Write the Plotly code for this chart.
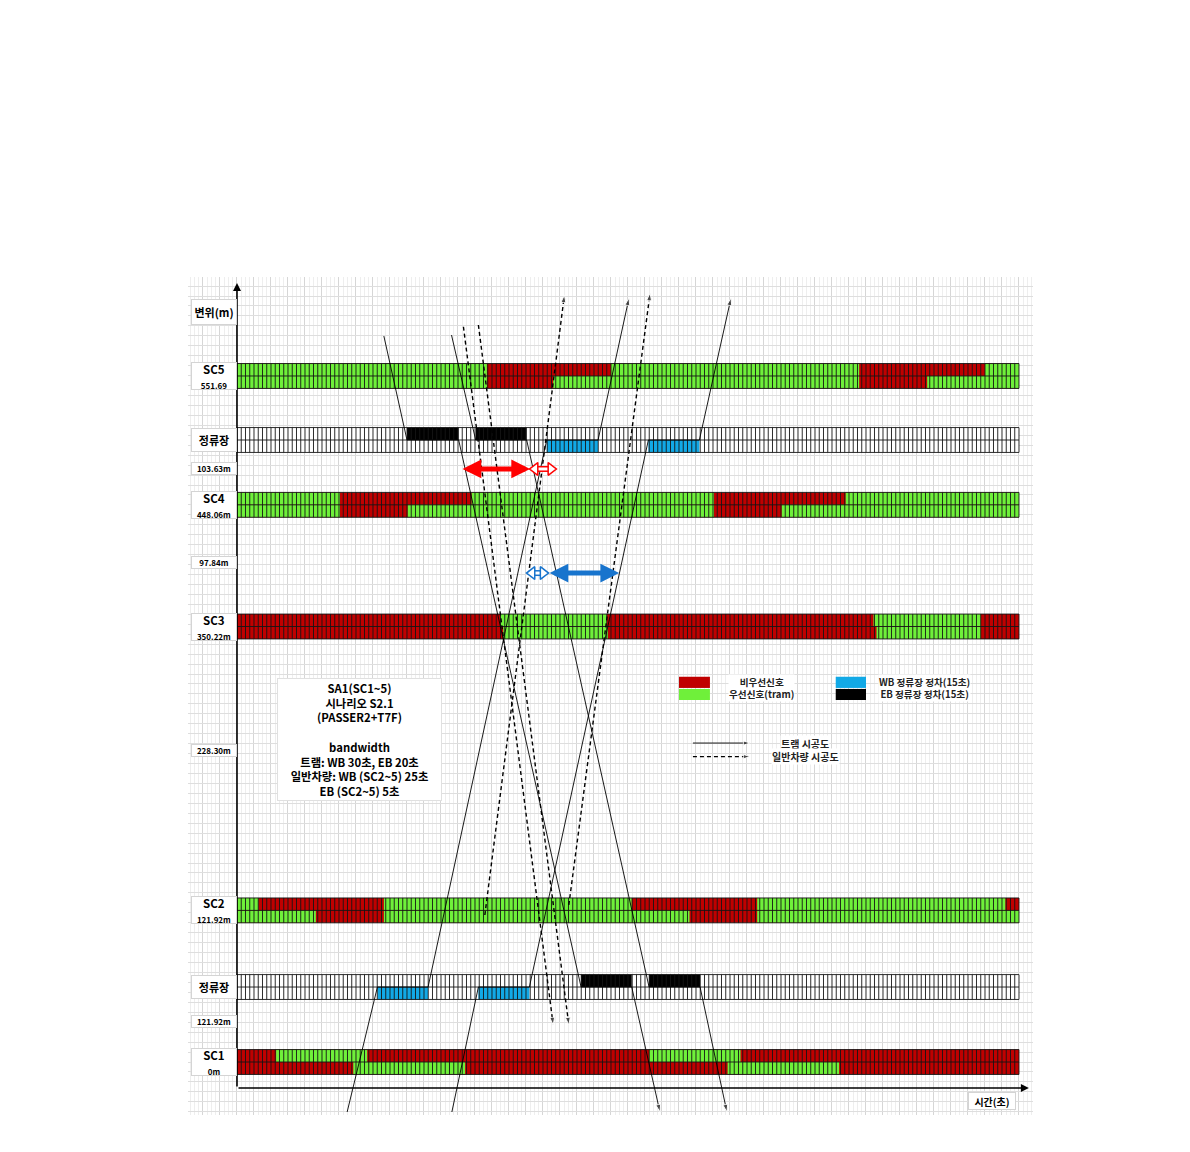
import numpy as np
import plotly.graph_objects as go

# ---- time (s) / distance (m) data ----
T_END = 230.0
CELL = 1.25  # width of one signal cell (s)
HALF = 10.0  # half height of a signal / stop row (m)

SC_NAMES = ["SC1", "SC2", "SC3", "SC4", "SC5"]
SC_DIST = [0.0, 121.92, 350.22, 448.06, 551.69]
SC_DIST_TEXT = ["0m", "121.92m", "350.22m", "448.06m", "551.69"]

# green (우선신호) intervals, upper half and lower half of each bar; rest is red
SC1_GREEN_UP = [(11.5, 38.3), (121.2, 148.1)]
SC1_GREEN_DN = [(34.2, 67.1), (144.3, 177.1)]
SC2_GREEN_UP = [(0.0, 6.3), (43.2, 116.1), (153.0, 226.0)]
SC2_GREEN_DN = [(0.0, 23.2), (43.2, 133.1), (153.0, 230.0)]
SC3_GREEN_UP = [(77.4, 108.8), (187.2, 218.8)]
SC3_GREEN_DN = [(78.3, 109.1), (188.1, 218.8)]
SC4_GREEN_UP = [(0.0, 30.3), (69.0, 140.3), (179.0, 230.0)]
SC4_GREEN_DN = [(0.0, 30.3), (50.2, 140.3), (160.2, 230.0)]
SC5_GREEN_UP = [(0.0, 73.5), (110.0, 183.0), (220.0, 230.0)]
SC5_GREEN_DN = [(0.0, 73.5), (93.0, 183.0), (203.0, 230.0)]

# tram stops (정류장): EB dwell (black, upper half), WB dwell (blue, lower half)
STOP_DIST = [60.3, 500.2]
LOWER_STOP_EB = [(101.2, 116.1), (121.2, 136.2)]
LOWER_STOP_WB = [(41.3, 56.2), (71.0, 86.0)]
UPPER_STOP_EB = [(50.0, 65.2), (70.2, 85.2)]
UPPER_STOP_WB = [(91.1, 106.2), (121.0, 136.0)]

# tram trajectories (트램 시공도)
TRAM1_T = [43.2, 50.0, 65.2, 101.2, 116.1, 124.4]
TRAM1_D = [583.8, 500.2, 500.2, 60.3, 60.3, -40.2]
TRAM2_T = [63.1, 70.2, 85.2, 121.2, 136.2, 144.1]
TRAM2_D = [584.6, 500.2, 500.2, 60.3, 60.3, -40.2]
TRAM3_T = [32.4, 41.3, 56.2, 91.1, 106.2, 115.3]
TRAM3_D = [-40.2, 60.3, 60.3, 500.2, 500.2, 614.4]
TRAM4_T = [63.2, 71.0, 86.0, 121.0, 136.0, 145.3]
TRAM4_D = [-40.2, 60.3, 60.3, 500.2, 500.2, 614.4]

# general vehicle trajectories (일반차량 시공도)
CAR1_T = [66.6, 93.0]
CAR1_D = [591.3, 29.8]
CAR2_T = [71.0, 97.6]
CAR2_D = [592.7, 29.8]
CAR3_T = [72.9, 96.3]
CAR3_D = [118.2, 616.8]
CAR4_T = [97.6, 121.5]
CAR4_D = [126.3, 618.4]

# bandwidth arrows (s)
BW_EB_TRAM = (65.9, 86.2)
BW_EB_CAR = (86.2, 93.8)
BW_EB_DIST = 476.9
BW_WB_TRAM = (91.5, 112.4)
BW_WB_CAR = (85.3, 91.5)
BW_WB_DIST = 393.2

RED = "#C00000"
GREEN = "#6FF03A"
BLUE = "#12A9E6"
FONT = "Noto Sans CJK KR"
PX = 3.4  # pixels per second on screen, for marker offsets

fig = go.Figure()
shapes = []


def rect(x0, x1, y0, y1, color):
    return dict(type="rect", xref="x", yref="y", x0=x0, x1=x1, y0=y0, y1=y1,
                fillcolor=color, line=dict(width=0), layer="between")


# signal bars
greens = [(SC1_GREEN_UP, SC1_GREEN_DN), (SC2_GREEN_UP, SC2_GREEN_DN),
          (SC3_GREEN_UP, SC3_GREEN_DN), (SC4_GREEN_UP, SC4_GREEN_DN),
          (SC5_GREEN_UP, SC5_GREEN_DN)]
for d, (up, dn) in zip(SC_DIST, greens):
    shapes.append(rect(0, T_END, d - HALF, d + HALF, RED))
    for a, b in up:
        shapes.append(rect(a, b, d, d + HALF, GREEN))
    for a, b in dn:
        shapes.append(rect(a, b, d - HALF, d, GREEN))

# stop rows
stops = [(LOWER_STOP_EB, LOWER_STOP_WB), (UPPER_STOP_EB, UPPER_STOP_WB)]
for d, (eb, wb) in zip(STOP_DIST, stops):
    shapes.append(rect(0, T_END, d - HALF, d + HALF, "white"))
    for a, b in eb:
        shapes.append(rect(a, b, d, d + HALF, "black"))
    for a, b in wb:
        shapes.append(rect(a, b, d - HALF, d, BLUE))

# cell stripes and row outlines
xs, ys = [], []
cells = np.arange(0, T_END + CELL / 2, CELL)
for d in SC_DIST + STOP_DIST:
    for t in cells:
        xs += [t, t, None]
        ys += [d - HALF, d + HALF, None]
    for yy in (d - HALF, d, d + HALF):
        xs += [0, T_END, None]
        ys += [yy, yy, None]
fig.add_trace(go.Scatter(x=xs, y=ys, mode="lines", line=dict(color="#151515", width=0.9),
                         hoverinfo="skip", showlegend=False))


def trajectory(t, d, dashed):
    n = len(t)
    fig.add_trace(go.Scatter(
        x=t, y=d, mode="lines+markers",
        line=dict(color="black", width=1.4 if dashed else 0.9,
                  dash="4px,3px" if dashed else "solid"),
        marker=dict(symbol="arrow", size=[0] * (n - 1) + [8], angleref="previous",
                    color="black"),
        hoverinfo="skip", showlegend=False))


for t, d in [(TRAM1_T, TRAM1_D), (TRAM2_T, TRAM2_D), (TRAM3_T, TRAM3_D), (TRAM4_T, TRAM4_D)]:
    trajectory(t, d, False)
for t, d in [(CAR1_T, CAR1_D), (CAR2_T, CAR2_D), (CAR3_T, CAR3_D), (CAR4_T, CAR4_D)]:
    trajectory(t, d, True)


def hollow_arrow(a, b, y, color):
    # outlined double arrow: coloured body, white core, outlined heads
    off = 5 / PX
    fig.add_trace(go.Scatter(x=[a + off, b - off], y=[y, y], mode="lines",
                             line=dict(color=color, width=6), hoverinfo="skip", showlegend=False))
    fig.add_trace(go.Scatter(x=[a + off, b - off], y=[y, y], mode="lines",
                             line=dict(color="white", width=3), hoverinfo="skip", showlegend=False))
    fig.add_trace(go.Scatter(x=[a + off, b - off], y=[y, y], mode="markers",
                             marker=dict(symbol=["triangle-left", "triangle-right"], size=11,
                                         color="white", line=dict(color=color, width=1.5)),
                             hoverinfo="skip", showlegend=False))


hollow_arrow(BW_EB_CAR[0], BW_EB_CAR[1], BW_EB_DIST, "#FF0000")
hollow_arrow(BW_WB_CAR[0], BW_WB_CAR[1], BW_WB_DIST, "#1874CD")

# legend line samples
fig.add_trace(go.Scatter(x=[134.1, 150.9], y=[256.5, 256.5], mode="lines+markers",
                         line=dict(color="black", width=0.9),
                         marker=dict(symbol="arrow", size=[0, 7], angleref="previous", color="black"),
                         hoverinfo="skip", showlegend=False))
fig.add_trace(go.Scatter(x=[134.1, 150.9], y=[245.6, 245.6], mode="lines+markers",
                         line=dict(color="black", width=1.2, dash="4px,3px"),
                         marker=dict(symbol="arrow", size=[0, 7], angleref="previous", color="black"),
                         hoverinfo="skip", showlegend=False))

# legend colour boxes
shapes.append(rect(130.0, 139.1, 300.8, 309.8, RED))
shapes.append(rect(130.0, 139.1, 291.1, 300.0, GREEN))
shapes.append(rect(176.1, 185.0, 300.8, 309.8, BLUE))
shapes.append(rect(176.1, 185.0, 291.1, 300.0, "black"))

annotations = []


def arrow(x0, x1, y, color, width, both=True, size=1.0):
    annotations.append(dict(x=x1, y=y, ax=x0, ay=y, xref="x", yref="y", axref="x", ayref="y",
                            text="", showarrow=True, arrowhead=2, arrowsize=size,
                            arrowwidth=width, arrowcolor=color, standoff=0, startstandoff=0,
                            arrowside="end+start" if both else "end"))


# axes
arrow(0, 0, 0, "black", 1.6, both=False)
annotations[-1].update(y=626.5, ay=-20.9)
arrow(0, 232.9, -20.9, "black", 1.6, both=False)

# bandwidth arrows (tram)
arrow(BW_EB_TRAM[0], BW_EB_TRAM[1], BW_EB_DIST, "#FF0000", 5, size=0.75)
arrow(BW_WB_TRAM[0], BW_WB_TRAM[1], BW_WB_DIST, "#1874CD", 5, size=0.75)


def label(x, y, text, w, h, size=10, border="#d4d4d4"):
    annotations.append(dict(x=x, y=y, xref="x", yref="y", text=text, showarrow=False,
                            width=w, height=h, bgcolor="white", bordercolor=border,
                            borderwidth=1, borderpad=0,
                            font=dict(family=FONT, size=size, color="black")))


LX = -6.8
label(LX, 603.5, "<b>변위(m)</b>", 44, 24, 11)
for name, d, txt in zip(SC_NAMES, SC_DIST, SC_DIST_TEXT):
    label(LX, d, f"<b>{name}</b><br><span style='font-size:8px'><b>{txt}</b></span>", 44, 26, 11.5)
for d in STOP_DIST:
    label(LX, d, "<b>정류장</b>", 44, 22, 11)
label(LX, 476.9, "<b>103.63m</b>", 44, 11, 8)
label(LX, 401.3, "<b>97.84m</b>", 44, 11, 8)
label(LX, 250.9, "<b>228.30m</b>", 44, 11, 8)
label(LX, 32.2, "<b>121.92m</b>", 44, 11, 8)
label(222.2, -31.4, "<b>시간(초)</b>", 46, 16, 10)

label(35.9, 259.7,
      "<b>SA1(SC1~5)<br>시나리오 S2.1<br>(PASSER2+T7F)<br><br>bandwidth<br>"
      "트램: WB 30초, EB 20초<br>일반차량: WB (SC2~5) 25초<br>EB (SC2~5) 5초</b>",
      163, 121, 11.3, border="#e0e0e0")

# legend texts, two lines per column
for x, y, t in [(154.3, 300.5, "비우선신호<br>우선신호(tram)"),
                (202.3, 300.5, "WB 정류장 정차(15초)<br>EB 정류장 정차(15초)")]:
    annotations.append(dict(x=x, y=y, xref="x", yref="y", text=f"<b>{t}</b>", showarrow=False,
                            bgcolor="white", borderpad=0, align="center",
                            font=dict(family=FONT, size=9.6, color="#222")))
for x, y, t in [(167.1, 256.5, "트램 시공도"), (167.1, 245.4, "일반차량 시공도")]:
    annotations.append(dict(x=x, y=y, xref="x", yref="y", text=f"<b>{t}</b>", showarrow=False,
                            bgcolor="white", borderpad=0,
                            font=dict(family=FONT, size=10, color="#222")))

fig.update_layout(
    width=1190, height=1152,
    margin=dict(l=180, r=165, t=269, b=45),
    paper_bgcolor="white", plot_bgcolor="white",
    shapes=shapes, annotations=annotations, showlegend=False,
)
fig.update_xaxes(range=[-14.41, 234.12], showticklabels=False, zeroline=False,
                 showgrid=True, dtick=5, tick0=0, gridcolor="#d6d6d6", gridwidth=1,
                 minor=dict(dtick=1.25, showgrid=True, gridcolor="#eeeeee", gridwidth=1),
                 ticks="", fixedrange=True)
fig.update_yaxes(range=[-42.62, 631.28], showticklabels=False, zeroline=False,
                 showgrid=True, dtick=8, tick0=0, gridcolor="#dedede", gridwidth=1,
                 ticks="", fixedrange=True)

fig.write_html("out.html")
